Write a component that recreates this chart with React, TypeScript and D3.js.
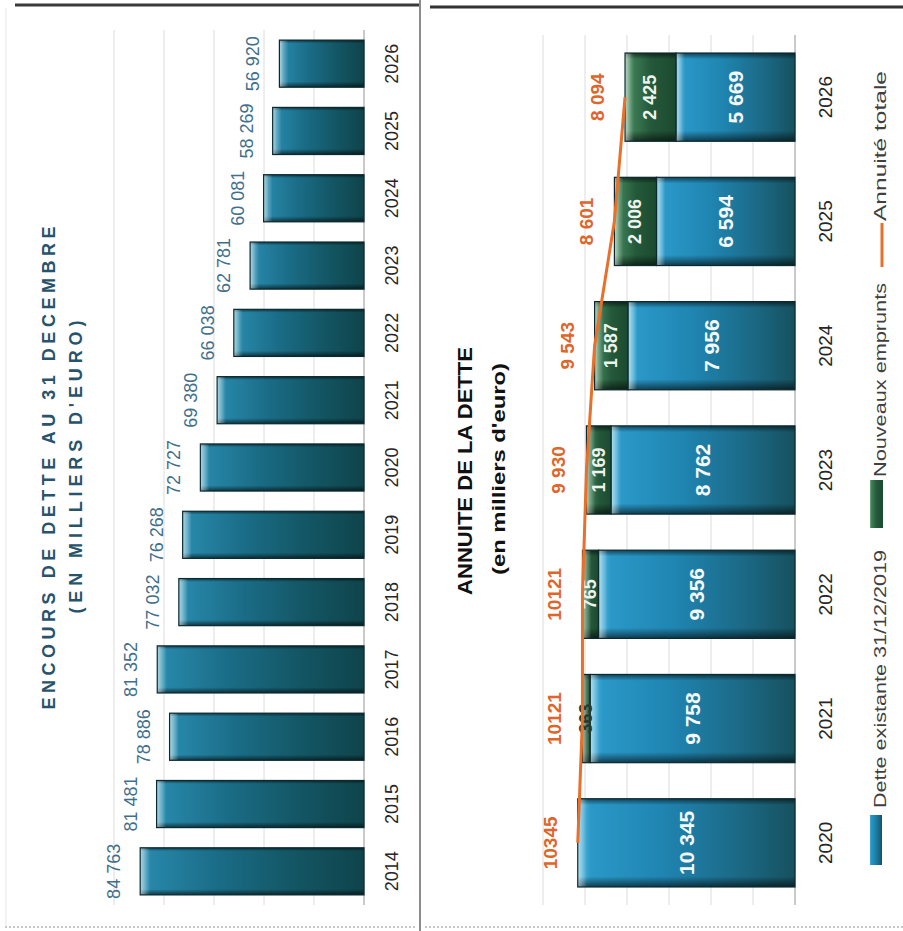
import React from 'react';
import * as d3 from 'd3';

const W = 903;
const H = 931;

// ---- Left chart: Encours de dette au 31 décembre ----
const encoursYears = [2014, 2015, 2016, 2017, 2018, 2019, 2020, 2021, 2022, 2023, 2024, 2025, 2026];
const encoursValues = [84763, 81481, 78886, 81352, 77032, 76268, 72727, 69380, 66038, 62781, 60081, 58269, 56920];
const encoursLabels = ['84 763', '81 481', '78 886', '81 352', '77 032', '76 268', '72 727', '69 380', '66 038', '62 781', '60 081', '58 269', '56 920'];
const encoursTicks = [40000, 50000, 60000, 70000, 80000, 90000];

// ---- Right chart: Annuité de la dette ----
const annuiteYears = [2020, 2021, 2022, 2023, 2024, 2025, 2026];
const detteExistante = [10345, 9758, 9356, 8762, 7956, 6594, 5669];
const nouveauxEmprunts = [0, 363, 765, 1169, 1587, 2006, 2425];
const annuiteTotale = [10345, 10121, 10121, 9930, 9543, 8601, 8094];
const existanteLabels = ['10 345', '9 758', '9 356', '8 762', '7 956', '6 594', '5 669'];
const empruntLabels = ['', '363', '765', '1 169', '1 587', '2 006', '2 425'];
const totaleLabels = ['10345', '10121', '10121', '9 930', '9 543', '8 601', '8 094'];
const annuiteTicks = [0, 2000, 4000, 6000, 8000, 10000, 12000];

const FONT = "'Liberation Sans', Arial, sans-serif";

function RText(props: any) {
  const { x, y, children, ...rest } = props;
  return (
    <text transform={`translate(${x},${y}) rotate(-90)`} fontFamily={FONT} {...rest}>
      {children}
    </text>
  );
}

export default function App() {
  // left scales
  const baseL = 364;
  const yL = d3
    .scaleBand<string>()
    .domain(encoursYears.map(String).reverse())
    .range([30, 905])
    .paddingInner(0.3)
    .paddingOuter(0.15);
  const xL = d3.scaleLinear().domain([40000, 90000]).range([baseL, 114]);

  // right scales
  const baseR = 795;
  const yR = d3
    .scaleBand<string>()
    .domain(annuiteYears.map(String).reverse())
    .range([35, 905])
    .paddingInner(0.29)
    .paddingOuter(0.145);
  const xR = d3.scaleLinear().domain([0, 12000]).range([baseR, 543]);

  const linePts: [number, number][] = annuiteYears.map((yr, i) => [
    xR(annuiteTotale[i]),
    (yR(String(yr)) as number) + yR.bandwidth() / 2,
  ]);
  const lineGen = d3.line<[number, number]>();

  const bevel = (x: number, y: number, w: number, h: number, key: string) => (
    <g key={key}>
      <rect x={x} y={y} width={w} height={h} fill="url(#bevelV)" />
      <rect x={x} y={y} width={Math.min(9, w)} height={h} fill="url(#endHL)" />
      <rect x={x} y={y} width={w} height={h} fill="none" stroke="#0b2a30" strokeWidth={1.2} />
    </g>
  );

  return (
    <svg
      width={W}
      height={H}
      viewBox={`0 0 ${W} ${H}`}
      style={{ position: 'absolute', left: 0, top: 0, background: '#fff' }}
    >
      <defs>
        <linearGradient id="gL" x1="0" y1="0" x2="1" y2="0">
          <stop offset="0" stopColor="#56acc9" />
          <stop offset="0.05" stopColor="#2786a8" />
          <stop offset="0.35" stopColor="#1a6c86" />
          <stop offset="0.7" stopColor="#135563" />
          <stop offset="1" stopColor="#0f444b" />
        </linearGradient>
        <linearGradient id="gR" x1="0" y1="0" x2="1" y2="0">
          <stop offset="0" stopColor="#63c0e2" />
          <stop offset="0.06" stopColor="#2a98c8" />
          <stop offset="0.4" stopColor="#1f84b0" />
          <stop offset="0.75" stopColor="#1b6884" />
          <stop offset="1" stopColor="#16515f" />
        </linearGradient>
        <linearGradient id="gG" x1="0" y1="0" x2="1" y2="0">
          <stop offset="0" stopColor="#72ad82" />
          <stop offset="0.12" stopColor="#3f7f56" />
          <stop offset="0.5" stopColor="#25593b" />
          <stop offset="1" stopColor="#1b4a2f" />
        </linearGradient>
        <linearGradient id="bevelV" x1="0" y1="0" x2="0" y2="1">
          <stop offset="0" stopColor="#000" stopOpacity="0.55" />
          <stop offset="0.07" stopColor="#000" stopOpacity="0" />
          <stop offset="0.88" stopColor="#000" stopOpacity="0" />
          <stop offset="1" stopColor="#000" stopOpacity="0.6" />
        </linearGradient>
        <linearGradient id="endHL" x1="0" y1="0" x2="1" y2="0">
          <stop offset="0" stopColor="#fff" stopOpacity="0.5" />
          <stop offset="1" stopColor="#fff" stopOpacity="0" />
        </linearGradient>
      </defs>

      <rect x={0} y={0} width={W} height={H} fill="#fff" />

      {/* frames */}
      <line x1={15} x2={420} y1={5} y2={5} stroke="#3a3a3a" strokeWidth={3} />
      <line x1={430} x2={903} y1={7} y2={7} stroke="#333" strokeWidth={3} />
      <line x1={420} x2={420} y1={0} y2={931} stroke="#8c8c8c" strokeWidth={2} />
      <line x1={6} x2={6} y1={8} y2={926} stroke="#e6e6e6" strokeWidth={1} />
      <line x1={5} x2={415} y1={927} y2={927} stroke="#c8c8c8" strokeWidth={2} strokeDasharray="2,2" />
      <line x1={425} x2={903} y1={927} y2={927} stroke="#c8c8c8" strokeWidth={2} strokeDasharray="2,2" />

      {/* ===== LEFT CHART ===== */}
      {encoursTicks.map((t) => (
        <line key={'gl' + t} x1={xL(t)} x2={xL(t)} y1={30} y2={905} stroke="#dcdcdc" strokeWidth={1} />
      ))}
      <line x1={baseL} x2={baseL} y1={30} y2={905} stroke="#a6a6a6" strokeWidth={1} />

      {encoursYears.map((yr, i) => {
        const y = yL(String(yr)) as number;
        const bw = yL.bandwidth();
        const x = xL(encoursValues[i]);
        const w = baseL - x;
        return (
          <g key={'bl' + yr}>
            <rect x={x} y={y} width={w} height={bw} fill="url(#gL)" />
            {bevel(x, y, w, bw, 'bvl' + yr)}
            <RText x={x - 20} y={y + bw / 2} fontSize={18} fill="#3f6f8c" textAnchor="middle">
              {encoursLabels[i]}
            </RText>
            <RText x={398} y={y + bw / 2} fontSize={18} fill="#262626" textAnchor="middle">
              {yr}
            </RText>
          </g>
        );
      })}

      <RText x={55} y={468} fontSize={18} fontWeight="bold" fill="#27536c" textAnchor="middle" textLength={483} lengthAdjust="spacing">
        ENCOURS DE DETTE AU 31 DECEMBRE
      </RText>
      <RText x={82} y={467} fontSize={18} fontWeight="bold" fill="#27536c" textAnchor="middle" textLength={293} lengthAdjust="spacing">
        (EN MILLIERS D'EURO)
      </RText>

      {/* ===== RIGHT CHART ===== */}
      {annuiteTicks.map((t) => (
        <line key={'gr' + t} x1={xR(t)} x2={xR(t)} y1={35} y2={905} stroke="#dcdcdc" strokeWidth={1} />
      ))}
      <line x1={baseR} x2={baseR} y1={35} y2={905} stroke="#a6a6a6" strokeWidth={1} />

      {annuiteYears.map((yr, i) => {
        const y = yR(String(yr)) as number;
        const bw = yR.bandwidth();
        const e = detteExistante[i];
        const n = nouveauxEmprunts[i];
        const xe = xR(e);
        const xt = xR(e + n);
        return (
          <g key={'br' + yr}>
            <rect x={xe} y={y} width={baseR - xe} height={bw} fill="url(#gR)" />
            {bevel(xe, y, baseR - xe, bw, 'bvr' + yr)}
            {n > 0 && <rect x={xt} y={y} width={xe - xt} height={bw} fill="url(#gG)" />}
            {n > 0 && bevel(xt, y, xe - xt, bw, 'bvg' + yr)}
            <RText
              x={(xe + baseR) / 2}
              y={y + bw / 2}
              fontSize={21}
              fontWeight="bold"
              fill="#f4f8fa"
              textAnchor="middle"
              dominantBaseline="central"
            >
              {existanteLabels[i]}
            </RText>
            {n > 0 && (
              <RText
                x={(xt + xe) / 2}
                y={y + bw / 2}
                fontSize={18}
                fontWeight="bold"
                fill={n < 500 ? '#2a3a2e' : '#eef3ee'}
                textAnchor="middle"
                dominantBaseline="central"
              >
                {empruntLabels[i]}
              </RText>
            )}
            <RText x={832} y={y + bw / 2} fontSize={19} fill="#262626" textAnchor="middle">
              {yr}
            </RText>
          </g>
        );
      })}

      <path d={lineGen(linePts) || ''} fill="none" stroke="#e8702a" strokeWidth={3} />
      {annuiteYears.map((yr, i) => (
        <RText
          key={'tl' + yr}
          x={xR(annuiteTotale[i]) - 21}
          y={linePts[i][1]}
          fontSize={19}
          fontWeight="bold"
          fill="#e0652a"
          textAnchor="middle"
        >
          {totaleLabels[i]}
        </RText>
      ))}

      <RText x={472} y={471} fontSize={21} fontWeight="bold" fill="#111" textAnchor="middle" textLength={248} lengthAdjust="spacingAndGlyphs">
        ANNUITE DE LA DETTE
      </RText>
      <RText x={505} y={469} fontSize={19} fontWeight="bold" fill="#111" textAnchor="middle" textLength={212} lengthAdjust="spacingAndGlyphs">
        (en milliers d'euro)
      </RText>

      {/* legend */}
      <rect x={870} y={815} width={12} height={50} fill="url(#gR)" />
      <RText x={886} y={808} fontSize={17} fill="#404040" textAnchor="start" textLength={258} lengthAdjust="spacingAndGlyphs">
        Dette existante 31/12/2019
      </RText>
      <rect x={870} y={480} width={13} height={48} fill="url(#gG)" />
      <RText x={886} y={477} fontSize={17} fill="#404040" textAnchor="start" textLength={194} lengthAdjust="spacingAndGlyphs">
        Nouveaux emprunts
      </RText>
      <line x1={882} x2={882} y1={223} y2={267} stroke="#e8702a" strokeWidth={3} />
      <RText x={886} y={221} fontSize={17} fill="#404040" textAnchor="start" textLength={150} lengthAdjust="spacingAndGlyphs">
        Annuité totale
      </RText>
    </svg>
  );
}
